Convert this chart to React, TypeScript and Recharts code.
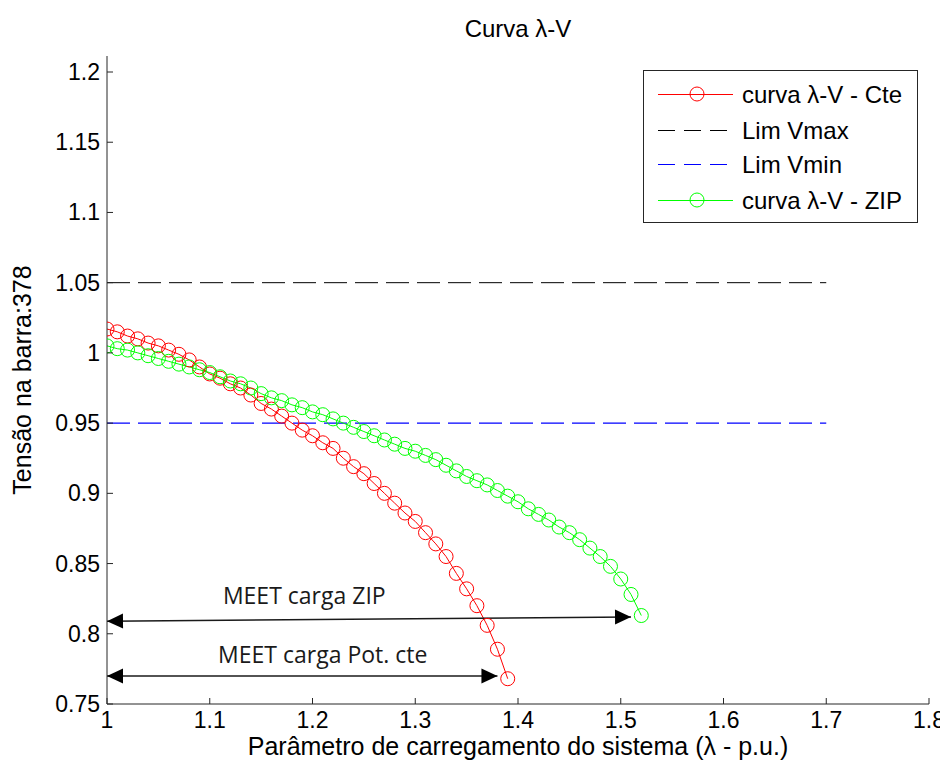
import {
  LineChart,
  Line,
  XAxis,
  YAxis,
  ReferenceLine,
  ReferenceDot,
  Legend,
  Label,
} from "recharts";

// load parameter (lambda, p.u.) and bus voltage, constant power load
const LAMBDA_CTE = [
  1.0, 1.01, 1.02, 1.03, 1.04, 1.05, 1.06, 1.07, 1.08, 1.09, 1.1, 1.11, 1.12,
  1.13, 1.14, 1.15, 1.16, 1.17, 1.18, 1.19, 1.2, 1.21, 1.22, 1.23, 1.24, 1.25,
  1.26, 1.27, 1.28, 1.29, 1.3, 1.31, 1.32, 1.33, 1.34, 1.35, 1.36, 1.37, 1.38,
  1.39,
];
const V_CTE = [
  1.017, 1.015, 1.012, 1.01, 1.007, 1.005, 1.002, 0.999, 0.995, 0.99, 0.985,
  0.982, 0.978, 0.975, 0.97, 0.964, 0.96, 0.955, 0.95, 0.945, 0.941, 0.936,
  0.932, 0.925, 0.919, 0.914, 0.907, 0.9, 0.893, 0.886, 0.88, 0.872, 0.864,
  0.855, 0.843, 0.832, 0.82, 0.806, 0.789, 0.768,
];

// ZIP load
const LAMBDA_ZIP = [
  1.0, 1.01, 1.02, 1.03, 1.04, 1.05, 1.06, 1.07, 1.08, 1.09, 1.1, 1.11, 1.12,
  1.13, 1.14, 1.15, 1.16, 1.17, 1.18, 1.19, 1.2, 1.21, 1.22, 1.23, 1.24, 1.25,
  1.26, 1.27, 1.28, 1.29, 1.3, 1.31, 1.32, 1.33, 1.34, 1.35, 1.36, 1.37, 1.38,
  1.39, 1.4, 1.41, 1.42, 1.43, 1.44, 1.45, 1.46, 1.47, 1.48, 1.49, 1.5, 1.51,
  1.52,
];
const V_ZIP = [
  1.005, 1.003, 1.002, 1.0, 0.998, 0.996, 0.994, 0.992, 0.99, 0.988, 0.986,
  0.983, 0.98, 0.978, 0.975, 0.971, 0.968, 0.966, 0.963, 0.961, 0.958, 0.956,
  0.953, 0.95, 0.947, 0.944, 0.941, 0.938, 0.935, 0.932, 0.93, 0.927, 0.924,
  0.92, 0.916, 0.912, 0.909, 0.906, 0.902, 0.898, 0.894, 0.889, 0.885, 0.881,
  0.876, 0.872, 0.867, 0.861, 0.855, 0.848, 0.839, 0.828, 0.813,
];

const X_TICKS = [1, 1.1, 1.2, 1.3, 1.4, 1.5, 1.6, 1.7, 1.8];
const Y_TICKS = [0.75, 0.8, 0.85, 0.9, 0.95, 1, 1.05, 1.1, 1.15, 1.2];

// voltage limits, drawn from lambda 1 to 1.7
const LIMIT_LAMBDA = [1.0, 1.7];
const V_MAX = 1.05;
const V_MIN = 0.95;

// MEET arrows: label, start/end lambda, start/end voltage, text anchor
const MEET_LABELS = ["MEET carga ZIP", "MEET carga Pot. cte"];
const MEET_FROM = [1.0, 1.0];
const MEET_TO = [1.51, 1.38];
const MEET_V_FROM = [0.809, 0.77];
const MEET_V_TO = [0.812, 0.77];
const MEET_TEXT_L = [1.192, 1.21];
const MEET_TEXT_V = [0.821, 0.779];

const FONT = "'Liberation Sans', Arial, sans-serif";
const AXIS = "#262626";
const RED = "#ff0000";
const GREEN = "#00ff00";
const BLUE = "#0000ff";
const DASH = "23 8";

const cteData = LAMBDA_CTE.map((l, i) => ({ l, v: V_CTE[i] }));
const zipData = LAMBDA_ZIP.map((l, i) => ({ l, v: V_ZIP[i] }));
const vmaxData = LIMIT_LAMBDA.map((l) => ({ l, v: V_MAX }));
const vminData = LIMIT_LAMBDA.map((l) => ({ l, v: V_MIN }));

const XTick = ({ x, y, payload }: any) => (
  <g>
    <line x1={x} x2={x} y1={y} y2={y - 6} stroke={AXIS} />
    <text
      x={x}
      y={y + 24}
      textAnchor="middle"
      fontSize={23}
      fontFamily={FONT}
      fill="#000"
    >
      {payload.value}
    </text>
  </g>
);

const YTick = ({ x, y, payload }: any) => (
  <g>
    <line x1={x} x2={x + 6} y1={y} y2={y} stroke={AXIS} />
    <text
      x={x - 7}
      y={y + 8}
      textAnchor="end"
      fontSize={23}
      fontFamily={FONT}
      fill="#000"
    >
      {payload.value}
    </text>
  </g>
);

const head = (x: number, y: number, a: number) => {
  const len = 16;
  const w = 7.5;
  const bx = x - len * Math.cos(a);
  const by = y - len * Math.sin(a);
  const px = w * Math.sin(a);
  const py = -w * Math.cos(a);
  return `${x},${y} ${bx + px},${by + py} ${bx - px},${by - py}`;
};

const Arrow = (props: any) => {
  const { x1, y1, x2, y2 } = props;
  const a = Math.atan2(y2 - y1, x2 - x1);
  return (
    <g>
      <line x1={x1} y1={y1} x2={x2} y2={y2} stroke="#1a1a1a" strokeWidth={1.5} />
      <polygon points={head(x2, y2, a)} fill="#000" />
      <polygon points={head(x1, y1, a + Math.PI)} fill="#000" />
    </g>
  );
};

const LEGEND_ROWS = [
  { name: "curva λ-V - Cte", color: RED, dashed: false, y: 23 },
  { name: "Lim Vmax", color: "#000", dashed: true, y: 59 },
  { name: "Lim Vmin", color: BLUE, dashed: true, y: 93 },
  { name: "curva λ-V - ZIP", color: GREEN, dashed: false, y: 129 },
];

const LegendBox = () => (
  <div
    style={{
      width: 275,
      height: 153,
      boxSizing: "border-box",
      border: `1px solid ${AXIS}`,
      background: "#fff",
    }}
  >
    <svg width={273} height={151} style={{ display: "block" }}>
      {LEGEND_ROWS.map((r) => (
        <g key={r.name}>
          <line
            x1={14}
            x2={89}
            y1={r.y + 0.5}
            y2={r.y + 0.5}
            stroke={r.color}
            strokeDasharray={r.dashed ? "17 9" : undefined}
          />
          {!r.dashed && (
            <circle cx={53} cy={r.y} r={7} fill="none" stroke={r.color} />
          )}
          <text
            x={98}
            y={r.y + 9}
            fontSize={24}
            fontFamily={FONT}
            fill="#000"
          >
            {r.name}
          </text>
        </g>
      ))}
    </svg>
  </div>
);

const App = () => {
  return (
    <LineChart
      width={940}
      height={761}
      margin={{ top: 48, right: 19, bottom: 36, left: 19 }}
    >
      <text
        x={510}
        y={29}
        textAnchor="middle"
        fontSize={24}
        fontFamily={FONT}
        fill="#000"
      >
        Curva λ-V
      </text>
      <XAxis
        type="number"
        dataKey="l"
        domain={[1, 1.8]}
        ticks={X_TICKS}
        allowDataOverflow
        tickLine={false}
        tickSize={0}
        tickMargin={0}
        tick={(p: any) => <XTick {...p} />}
        axisLine={{ stroke: AXIS }}
        height={29}
      >
        <Label
          value="Parâmetro de carregamento do sistema (λ - p.u.)"
          position="bottom"
          offset={4}
          style={{ fontSize: 25, fill: "#000", fontFamily: FONT }}
        />
      </XAxis>
      <YAxis
        type="number"
        dataKey="v"
        domain={[0.75, 1.2114]}
        ticks={Y_TICKS}
        allowDataOverflow
        tickLine={false}
        tickSize={0}
        tickMargin={0}
        tick={(p: any) => <YTick {...p} />}
        axisLine={{ stroke: AXIS }}
        width={80}
      >
        <Label
          value="Tensão na barra:378"
          angle={-90}
          position="insideLeft"
          offset={-5}
          style={{
            textAnchor: "middle",
            fontSize: 25,
            fill: "#000",
            fontFamily: FONT,
          }}
        />
      </YAxis>
      <Line
        data={vmaxData}
        dataKey="v"
        stroke="#000"
        strokeWidth={1}
        strokeDasharray={DASH}
        dot={false}
        activeDot={false}
        isAnimationActive={false}
      />
      <Line
        data={vminData}
        dataKey="v"
        stroke={BLUE}
        strokeWidth={1.2}
        strokeDasharray={DASH}
        dot={false}
        activeDot={false}
        isAnimationActive={false}
      />
      <Line
        data={cteData}
        dataKey="v"
        stroke={RED}
        strokeWidth={1}
        dot={{ r: 7, fill: "none", stroke: RED, strokeWidth: 1 }}
        isAnimationActive={false}
      />
      <Line
        data={zipData}
        dataKey="v"
        stroke={GREEN}
        strokeWidth={1}
        dot={{ r: 7, fill: "none", stroke: GREEN, strokeWidth: 1 }}
        isAnimationActive={false}
      />
      {MEET_LABELS.map((label, i) => (
        <ReferenceLine
          key={`arrow-${i}`}
          segment={[
            { x: MEET_FROM[i], y: MEET_V_FROM[i] },
            { x: MEET_TO[i], y: MEET_V_TO[i] },
          ]}
          shape={(p: any) => <Arrow {...p} />}
        />
      ))}
      {MEET_LABELS.map((label, i) => (
        <ReferenceDot
          key={`text-${i}`}
          x={MEET_TEXT_L[i]}
          y={MEET_TEXT_V[i]}
          r={0}
          shape={(p: any) => (
            <text
              x={p.cx}
              y={p.cy}
              textAnchor="middle"
              fontSize={23}
              fontFamily="'Open Sans', sans-serif"
              fill="#1a1a1a"
            >
              {label}
            </text>
          )}
        />
      ))}
      <Legend
        layout="vertical"
        align="center"
        verticalAlign="middle"
        wrapperStyle={{ left: 635, top: 62, width: 275, height: 153 }}
        content={() => <LegendBox />}
      />
    </LineChart>
  );
};

export default App;
